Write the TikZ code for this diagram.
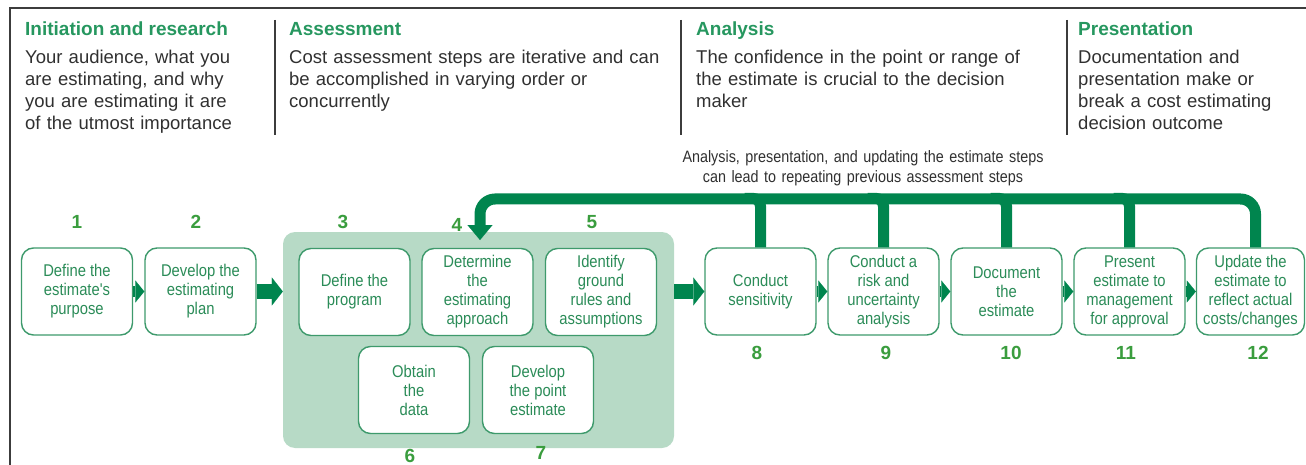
\documentclass[tikz,border=0pt]{standalone}
\usepackage{fontspec}
\setmainfont{Liberation Sans}
\newfontfamily\narrowfont[FakeStretch=0.87]{Liberation Sans}
\usetikzlibrary{arrows.meta,calc}

\definecolor{boxgreen}{HTML}{3E9A6C}
\definecolor{txtgreen}{HTML}{2B8C58}
\definecolor{arrowgreen}{HTML}{00854E}
\definecolor{numgreen}{HTML}{3A9D3E}
\definecolor{headgreen}{HTML}{26975F}
\definecolor{shadegreen}{HTML}{B7DAC6}
\definecolor{bodygray}{HTML}{303030}
\definecolor{rulegray}{HTML}{3C3C3C}

\begin{document}
\begin{tikzpicture}[x=1pt,y=-1pt,
  stepbox/.style={draw=boxgreen, line width=1.4pt, fill=white, rounded corners=12pt,
    minimum width=111pt, minimum height=87pt, inner sep=0pt, align=center,
    text=txtgreen, font=\narrowfont\fontsize{17}{19}\selectfont},
  num/.style={text=numgreen, font=\bfseries\fontsize{19}{19}\selectfont, inner sep=0pt},
  head/.style={text=headgreen, font=\bfseries\fontsize{19}{22}\selectfont, inner sep=0pt, anchor=base west},
  body/.style={text=bodygray, font=\fontsize{18.5}{22}\selectfont, align=left,
    text width=375pt, inner sep=0pt, anchor=base west},
  note/.style={text=bodygray, font=\narrowfont\fontsize{16.5}{20}\selectfont, align=center,
    text width=430pt, inner sep=0pt, anchor=base},
  rule/.style={draw=rulegray, line width=1.8pt},
  smallarrow/.style={draw=arrowgreen, line width=11pt,
    -{Triangle[width=22pt,length=9pt,line width=0.1pt]}},
  bigarrow/.style={draw=arrowgreen, line width=15pt,
    -{Triangle[width=28pt,length=11pt,line width=0.1pt]}},
  fbline/.style={draw=arrowgreen, line width=11pt, rounded corners=15pt},
]
\useasboundingbox (0,0) rectangle (1306,465);

% frame
\draw[rule] (10,465) -- (10,8) -- (1306,8);

% phase columns
\draw[rule, line width=1.5pt] (275,20) -- (275,135);
\draw[rule, line width=1.5pt] (681,20) -- (681,135);
\draw[rule, line width=1.5pt] (1067,20) -- (1067,135);

\node[head] (h1) at (25,36) {Initiation and research};
\node[body] (t1) at (25,64) {Your audience, what you\\are estimating, and why\\you are estimating it are\\of the utmost importance};
\node[head] (h2) at (289,36) {Assessment};
\node[body] (t2) at (289,64) {Cost assessment steps are iterative and can\\be accomplished in varying order or\\concurrently};
\node[head] (h3) at (696,36) {Analysis};
\node[body] (t3) at (696,64) {The confidence in the point or range of\\the estimate is crucial to the decision\\maker};
\node[head] (h4) at (1078,36) {Presentation};
\node[body] (t4) at (1078,64) {Documentation and\\presentation make or\\break a cost estimating\\decision outcome};

% assessment group
\node[fill=shadegreen, rounded corners=12pt, minimum width=391pt, minimum height=216pt,
  inner sep=0pt] (assess) at (478.5,340) {};

% steps
\node[stepbox] (b1) at (77,291.5) {Define the\\estimate's\\purpose};
\node[stepbox] (b2) at (200.5,291.5) {Develop the\\estimating\\plan};
\node[stepbox] (b3) at (354.5,292) {Define the\\program};
\node[stepbox] (b4) at (477.5,292) {Determine\\the\\estimating\\approach};
\node[stepbox] (b5) at (601,292) {Identify\\ground\\rules and\\assumptions};
\node[stepbox] (b6) at (414,390) {Obtain\\the\\data};
\node[stepbox] (b7) at (538,390) {Develop\\the point\\estimate};
\node[stepbox] (b8) at (760.5,291.5) {Conduct\\sensitivity};
\node[stepbox] (b9) at (883.5,291.5) {Conduct a\\risk and\\uncertainty\\analysis};
\node[stepbox] (b10) at (1006.5,291.5) {Document\\the\\estimate};
\node[stepbox] (b11) at (1129.5,291.5) {Present\\estimate to\\management\\for approval};
\node[stepbox, minimum width=108pt] (b12) at (1250.5,291.5) {Update the\\estimate to\\reflect actual\\costs/changes};

% step numbers
\node[num] (n1) at (77,222) {1};
\node[num] (n2) at (196,222) {2};
\node[num] (n3) at (343,222) {3};
\node[num] (n4) at (457,225) {4};
\node[num] (n5) at (592,222) {5};
\node[num] (n6) at (410,456) {6};
\node[num] (n7) at (541,453) {7};
\node[num] (n8) at (757,353) {8};
\node[num] (n9) at (886,353) {9};
\node[num] (n10) at (1011,353) {10};
\node[num] (n11) at (1126,353) {11};
\node[num] (n12) at (1258,353) {12};

% forward flow
\draw[smallarrow] (b1.east) -- (b2.west);
\draw[bigarrow] (b2.east) -- (b2.east -| assess.west);
\draw[bigarrow] (assess.east |- b8.west) -- (b8.west);
\draw[smallarrow] (b8.east) -- (b9.west);
\draw[smallarrow] (b9.east) -- (b10.west);
\draw[smallarrow] (b10.east) -- (b11.west);
\draw[smallarrow] (b11.east) -- (b12.west);

% feedback loop back to the assessment steps
\coordinate (fbtip) at (480,240);
\draw[fbline, -{Triangle[width=25pt,length=15pt,line width=0.1pt]}]
  ([xshift=5pt]b12.north) |- ($(fbtip)+(0,-41)$) -- (fbtip);
\draw[fbline, rounded corners=8pt] (b8.north) |- ++(-16,-49);
\draw[fbline, rounded corners=8pt] (b9.north) |- ++(-16,-49);
\draw[fbline, rounded corners=8pt] (b10.north) |- ++(-16,-49);
\draw[fbline, rounded corners=8pt] (b11.north) |- ++(-16,-49);

\node[note] (lbl) at (863,163) {Analysis, presentation, and updating the estimate steps\\can lead to repeating previous assessment steps};
\end{tikzpicture}
\end{document}
